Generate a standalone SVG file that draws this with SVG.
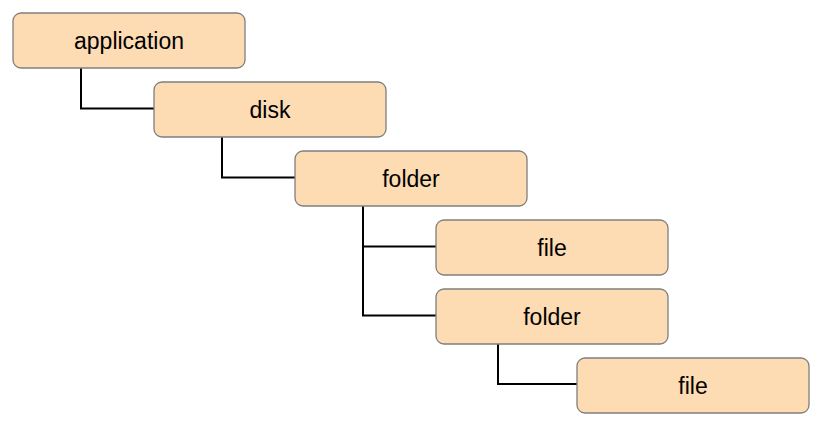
<svg xmlns="http://www.w3.org/2000/svg" width="822" height="426" viewBox="0 0 822 426">
<style>
.box{fill:#fddbb3;stroke:#7f7f7f;stroke-width:1.3}
.lbl{font-family:"Liberation Sans",Arial,sans-serif;font-size:23px;fill:#000;text-anchor:middle;dominant-baseline:central}
.conn{fill:none;stroke:#000;stroke-width:2}
</style>
<rect width="822" height="426" fill="#fff"/>
<g id="connectors">
<path class="conn" d="M81 68 V108.5 H154"/>
<path class="conn" d="M222 136 V177.5 H295"/>
<path class="conn" d="M363 205 V246.5 H436"/>
<path class="conn" d="M363 246 V315.5 H436"/>
<path class="conn" d="M498 343 V384 H577"/>
</g>
<g id="n-application"><rect class="box" x="13" y="13" width="232" height="55" rx="8"/><text class="lbl" x="129" y="40.5">application</text></g>
<g id="n-disk"><rect class="box" x="154" y="82" width="232" height="55" rx="8"/><text class="lbl" x="270" y="109.5">disk</text></g>
<g id="n-folder1"><rect class="box" x="295" y="151" width="232" height="55" rx="8"/><text class="lbl" x="411" y="178.5">folder</text></g>
<g id="n-file1"><rect class="box" x="436" y="220" width="232" height="55" rx="8"/><text class="lbl" x="552" y="247.5">file</text></g>
<g id="n-folder2"><rect class="box" x="436" y="289" width="232" height="55" rx="8"/><text class="lbl" x="552" y="316.5">folder</text></g>
<g id="n-file2"><rect class="box" x="577" y="358" width="232" height="55" rx="8"/><text class="lbl" x="693" y="385.5">file</text></g>
</svg>
